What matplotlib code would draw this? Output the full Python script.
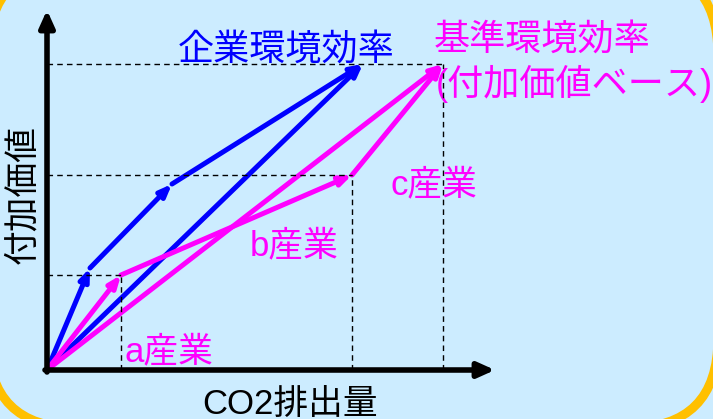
import numpy as np
import matplotlib
matplotlib.use("Agg")
import matplotlib.pyplot as plt
from matplotlib.patches import FancyBboxPatch

plt.rcParams['font.family'] = ['Liberation Sans', 'Noto Sans CJK JP', 'DejaVu Sans']

# ---------------- DATI (unità arbitrarie) ----------------
industries = ["a産業", "b産業", "c産業"]
# 基準 (per industria): CO2排出量, 付加価値
std_co2 = [74, 231, 91]
std_va = [95, 100, 111]
# 企業 (per industria)
ent_co2 = [43, 82, 191]
ent_va = [102, 84, 120]

x_label = "CO2排出量"
y_label = "付加価値"
ent_title = "企業環境効率"
std_title = ["基準環境効率", "(付加価値ベース)"]

BLUE = "#0000FF"
MAGENTA = "#FF00FF"
BG = "#CCECFF"
BORDER = "#FFC000"

std_x = np.concatenate(([0], np.cumsum(std_co2)))
std_y = np.concatenate(([0], np.cumsum(std_va)))
ent_x = np.concatenate(([0], np.cumsum(ent_co2)))
ent_y = np.concatenate(([0], np.cumsum(ent_va)))

# ---------------- FIGURA ----------------
fig = plt.figure(figsize=(7.13, 4.19), dpi=100, facecolor=BG)
frame = FancyBboxPatch((-12, -9), 730, 463, boxstyle="round,pad=0,rounding_size=90",
                       transform=None, facecolor=BG, edgecolor=BORDER, linewidth=6.5,
                       zorder=-10)
fig.patches.append(frame)

ax = fig.add_axes([0, 0, 1, 1])
ax.set_zorder(1)
ax.set_xlim(-47, 666)
ax.set_ylim(-49, 370)
ax.axis("off")
ax.patch.set_visible(False)


def arrow(ax, p0, p1, color, lw, hl, hw, z):
    ax.annotate("", xy=p1, xytext=p0,
                arrowprops=dict(arrowstyle=f"-|>,head_length={hl},head_width={hw}",
                                color=color, lw=lw, shrinkA=0, shrinkB=0,
                                mutation_scale=10),
                zorder=z)


# assi
arrow(ax, (0, -2), (0, 360), "black", 4, 1.0, 0.45, 5)
arrow(ax, (-2, 0), (448, 0), "black", 4, 1.0, 0.45, 5)

# linee tratteggiate di riferimento
dash = dict(color="black", lw=1, linestyle=(0, (4, 3)), zorder=6)
for xv, yv in zip(std_x[1:], std_y[1:]):
    ax.plot([0, xv], [yv, yv], **dash)
    ax.plot([xv, xv], [0, yv], **dash)

# frecce blu (企業)
for i in range(3):
    arrow(ax, (ent_x[i], ent_y[i]), (ent_x[i + 1], ent_y[i + 1]), BLUE, 3.6, 0.7, 0.28, 3)
arrow(ax, (0, 0), (ent_x[-1], ent_y[-1]), BLUE, 3.6, 0.7, 0.28, 3)

# frecce magenta (基準)
for i in range(3):
    arrow(ax, (std_x[i], std_y[i]), (std_x[i + 1], std_y[i + 1]), MAGENTA, 3.6, 0.7, 0.28, 4)
arrow(ax, (0, 0), (std_x[-1], std_y[-1]), MAGENTA, 3.6, 0.7, 0.28, 4)

# testi
fs = 26
ax.text(239, 320, ent_title, color=BLUE, fontsize=fs, ha="center", va="center", zorder=2)
ax.text(387, 330, std_title[0], color=MAGENTA, fontsize=fs, ha="left", va="center")
ax.text(389, 286, std_title[1], color=MAGENTA, fontsize=fs, ha="left", va="center")
label_pos = [(122, 18), (247, 124), (387, 185)]
for name, (lx, ly) in zip(industries, label_pos):
    ax.text(lx, ly, name, color=MAGENTA, fontsize=25, ha="center", va="center", zorder=7)
ax.text(243, -34, x_label, color="black", fontsize=25, ha="center", va="center")
ax.text(-24, 175, y_label, color="black", fontsize=25, ha="center", va="center", rotation=90)

fig.savefig("out.png", dpi=100, facecolor=BG)
